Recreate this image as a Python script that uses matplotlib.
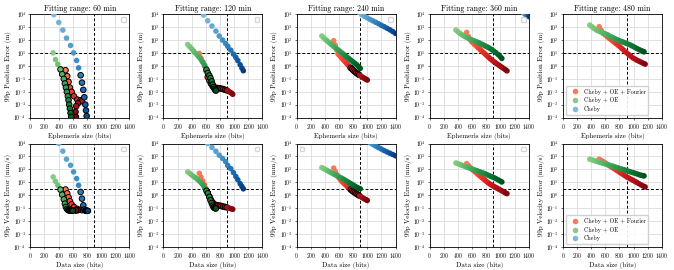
import numpy as np
import matplotlib.pyplot as plt
from matplotlib.lines import Line2D

plt.rcParams['font.family'] = 'serif'
plt.rcParams['font.serif'] = ['cmr10', 'DejaVu Serif']
plt.rcParams['mathtext.fontset'] = 'cm'
plt.rcParams['axes.formatter.use_mathtext'] = True

fit_ranges = [60, 120, 240, 360, 480]
series_labels = ['Cheby + OE + Fourier', 'Cheby + OE', 'Cheby']
pos_req = 10.0   # m
vel_req = 3.0    # mm/s
size_req = 900   # bits

# errors are stored as log10 values

# --- 60 min ---
fourier_60_bits = [498, 522, 541, 560, 584, 617, 664, 712, 731, 674, 650, 640, 645]
fourier_60_pos = [-0.34, -0.8, -1.24, -1.68, -2.01, -2.35, -2.61, -2.66, -2.74, -2.9, -3.12, -3.56, -3.95]
fourier_60_vel = [0.45, 0.15, -0.15, -0.45, -0.7, -0.9, -1.05, -1.12, -1.15, -1.15, -1.15, -1.16, -1.16]
oe_60_bits = [323, 356, 389, 427, 451, 474, 489, 503, 517, 531, 541, 550, 560, 569, 578, 590, 600]
oe_60_pos = [1.0, 0.48, 0.12, -0.28, -0.65, -1.01, -1.37, -1.68, -2.02, -2.35, -2.66, -3.0, -3.3, -3.65, -3.95, -4.3, -4.6]
oe_60_vel = [1.42, 1.08, 0.77, 0.44, 0.05, -0.31, -0.65, -0.9, -1.05, -1.12, -1.15, -1.17, -1.18, -1.18, -1.19, -1.19, -1.19]
cheby_60_bits = [332, 403, 460, 512, 569, 612, 655, 683, 712, 731, 750, 764, 778, 788, 797, 806, 815]
cheby_60_pos = [3.95, 3.35, 2.76, 2.14, 1.57, 1.0, 0.41, -0.16, -0.73, -1.3, -1.86, -2.43, -3.0, -3.45, -3.88, -4.3, -4.7]
cheby_60_vel = [4.6, 4.0, 3.41, 2.79, 2.32, 1.81, 1.29, 0.77, 0.26, -0.26, -0.77, -1.1, -1.18, -1.19, -1.2, -1.2, -1.2]

# --- 120 min ---
fourier_120_bits = [507, 530, 555, 580, 603, 626, 650, 672, 695, 719, 745, 770, 795, 820, 845, 870, 895, 920, 945, 965, 980]
fourier_120_pos = [0.95, 0.6, 0.3, 0.0, -0.4, -0.87, -1.15, -1.38, -1.58, -1.68, -1.7, -1.72, -1.74, -1.77, -1.8, -1.85, -1.9, -1.95, -2.05, -2.12, -2.2]
fourier_120_vel = [1.7, 1.4, 1.1, 0.8, 0.5, 0.2, -0.1, -0.35, -0.55, -0.7, -0.75, -0.78, -0.8, -0.83, -0.87, -0.9, -0.93, -0.97, -1.02, -1.05, -1.08]
oe_120_bits = [343, 370, 398, 425, 452, 480, 508, 535, 560, 585, 608, 628, 648, 665, 682, 697, 710, 722, 733, 742]
oe_120_pos = [1.65, 1.48, 1.32, 1.15, 0.98, 0.82, 0.65, 0.45, 0.25, 0.02, -0.3, -0.55, -0.75, -0.95, -1.2, -1.45, -1.65, -1.78, -1.86, -1.92]
oe_120_vel = [1.81, 1.7, 1.58, 1.46, 1.36, 1.24, 1.1, 0.95, 0.78, 0.56, 0.35, 0.15, -0.12, -0.38, -0.6, -0.8, -0.92, -0.98, -1.0, -1.02]
cheby_120_bits = [568, 625, 686, 742, 789, 836, 880, 910, 953, 991, 1024, 1052, 1085, 1110, 1130]
cheby_120_pos = [3.92, 3.48, 3.07, 2.68, 2.3, 1.99, 1.72, 1.5, 1.21, 0.9, 0.65, 0.4, 0.08, -0.18, -0.38]
cheby_120_vel = [4.3, 4.0, 3.7, 3.4, 3.1, 2.85, 2.6, 2.3, 2.06, 1.75, 1.45, 1.2, 0.9, 0.68, 0.5]

# --- 240 min ---
fourier_240_bits = [524, 545, 565, 585, 605, 625, 645, 665, 685, 705, 725, 745, 765, 785, 805, 825, 845, 865, 885, 905, 925, 945, 965, 985, 1000]
fourier_240_pos = [1.94, 1.6, 1.25, 0.92, 0.8, 0.68, 0.56, 0.44, 0.32, 0.2, 0.08, -0.04, -0.16, -0.26, -0.36, -0.46, -0.55, -0.63, -0.7, -0.78, -0.85, -0.92, -0.99, -1.05, -1.1]
fourier_240_vel = [2.1, 1.85, 1.62, 1.45, 1.3, 1.17, 1.05, 0.95, 0.85, 0.75, 0.63, 0.52, 0.45, 0.35, 0.27, 0.2, 0.12, 0.05, -0.02, -0.1, -0.17, -0.23, -0.3, -0.35, -0.4]
oe_240_bits = [357, 385, 410, 438, 465, 492, 520, 548, 575, 602, 630, 657, 685, 712, 740, 767, 795, 822, 850, 877, 900]
oe_240_pos = [2.3, 2.15, 2.02, 1.9, 1.77, 1.64, 1.52, 1.4, 1.28, 1.16, 1.04, 0.92, 0.8, 0.68, 0.56, 0.44, 0.32, 0.2, 0.08, -0.06, -0.2]
oe_240_vel = [2.14, 2.06, 1.98, 1.9, 1.82, 1.74, 1.66, 1.58, 1.5, 1.42, 1.34, 1.26, 1.17, 1.08, 0.99, 0.9, 0.81, 0.72, 0.63, 0.55, 0.5]
cheby_240_bits = [880, 920, 960, 1000, 1040, 1080, 1120, 1160, 1200, 1240, 1280, 1320, 1360, 1400]
cheby_240_pos = [4.15, 3.95, 3.82, 3.7, 3.58, 3.47, 3.36, 3.25, 3.13, 3.02, 2.9, 2.78, 2.65, 2.5]
cheby_240_vel = [4.5, 4.4, 4.3, 4.18, 4.05, 3.92, 3.8, 3.68, 3.57, 3.45, 3.35, 3.25, 3.15, 3.05]

# --- 360 min ---
fourier_360_bits = [522, 546, 570, 593, 617, 641, 665, 689, 713, 737, 761, 785, 809, 833, 857, 881, 905, 929, 953, 977, 1001, 1025, 1049, 1073, 1092]
fourier_360_pos = [2.58, 2.25, 2.02, 1.86, 1.74, 1.62, 1.5, 1.38, 1.26, 1.14, 1.02, 0.9, 0.78, 0.66, 0.54, 0.43, 0.33, 0.23, 0.14, 0.05, -0.04, -0.13, -0.22, -0.31, -0.39]
fourier_360_vel = [2.45, 2.3, 2.15, 2.03, 1.92, 1.81, 1.7, 1.59, 1.48, 1.37, 1.26, 1.15, 1.04, 0.94, 0.85, 0.77, 0.69, 0.62, 0.55, 0.47, 0.4, 0.33, 0.25, 0.18, 0.13]
oe_360_bits = [370, 398, 427, 455, 485, 515, 545, 575, 605, 635, 665, 695, 725, 755, 785, 815, 845, 875, 905, 935, 965, 995, 1020]
oe_360_pos = [2.76, 2.63, 2.5, 2.4, 2.3, 2.21, 2.13, 2.05, 1.98, 1.91, 1.85, 1.78, 1.7, 1.62, 1.53, 1.45, 1.36, 1.26, 1.14, 1.02, 0.88, 0.72, 0.57]
oe_360_vel = [2.5, 2.44, 2.38, 2.32, 2.26, 2.2, 2.14, 2.08, 2.02, 1.96, 1.9, 1.84, 1.78, 1.72, 1.65, 1.58, 1.51, 1.44, 1.37, 1.29, 1.2, 1.11, 1.03]
cheby_360_bits = [1330, 1355, 1380, 1405]
cheby_360_pos = [4.05, 3.96, 3.88, 3.8]
cheby_360_vel = [4.8, 4.7, 4.6, 4.5]

# --- 480 min ---
fourier_480_bits = [513, 540, 570, 600, 630, 660, 688, 718, 748, 778, 807, 837, 867, 902, 930, 960, 990, 1020, 1044, 1075, 1105, 1135, 1163]
fourier_480_pos = [3.02, 2.75, 2.5, 2.37, 2.24, 2.11, 1.99, 1.86, 1.73, 1.6, 1.47, 1.32, 1.17, 1.0, 0.87, 0.74, 0.61, 0.52, 0.44, 0.36, 0.28, 0.2, 0.13]
fourier_480_vel = [2.79, 2.7, 2.6, 2.49, 2.39, 2.28, 2.18, 2.08, 1.97, 1.87, 1.76, 1.66, 1.55, 1.42, 1.34, 1.25, 1.16, 1.07, 1.0, 0.9, 0.81, 0.72, 0.65]
oe_480_bits = [380, 410, 440, 474, 505, 535, 565, 595, 625, 655, 685, 715, 745, 775, 805, 835, 865, 895, 925, 955, 985, 1015, 1045, 1075, 1105, 1130, 1148]
oe_480_pos = [3.15, 3.02, 2.89, 2.76, 2.69, 2.62, 2.55, 2.48, 2.41, 2.32, 2.23, 2.15, 2.07, 2.0, 1.93, 1.87, 1.8, 1.74, 1.67, 1.6, 1.52, 1.43, 1.34, 1.26, 1.18, 1.12, 1.08]
oe_480_vel = [2.79, 2.74, 2.69, 2.63, 2.58, 2.53, 2.48, 2.43, 2.38, 2.33, 2.28, 2.23, 2.17, 2.12, 2.07, 2.02, 1.97, 1.92, 1.86, 1.81, 1.76, 1.71, 1.66, 1.6, 1.55, 1.52, 1.5]
cheby_480_bits = []
cheby_480_pos = []
cheby_480_vel = []

panels = [
    [(fourier_60_bits, fourier_60_pos, fourier_60_vel), (oe_60_bits, oe_60_pos, oe_60_vel), (cheby_60_bits, cheby_60_pos, cheby_60_vel)],
    [(fourier_120_bits, fourier_120_pos, fourier_120_vel), (oe_120_bits, oe_120_pos, oe_120_vel), (cheby_120_bits, cheby_120_pos, cheby_120_vel)],
    [(fourier_240_bits, fourier_240_pos, fourier_240_vel), (oe_240_bits, oe_240_pos, oe_240_vel), (cheby_240_bits, cheby_240_pos, cheby_240_vel)],
    [(fourier_360_bits, fourier_360_pos, fourier_360_vel), (oe_360_bits, oe_360_pos, oe_360_vel), (cheby_360_bits, cheby_360_pos, cheby_360_vel)],
    [(fourier_480_bits, fourier_480_pos, fourier_480_vel), (oe_480_bits, oe_480_pos, oe_480_vel), (cheby_480_bits, cheby_480_pos, cheby_480_vel)],
]
cmaps = [plt.cm.Reds, plt.cm.Greens, plt.cm.Blues]
top_legend_loc = ['upper right', 'upper right', 'upper right', 'upper right', 'lower left']
bot_legend_loc = ['upper right', 'upper right', 'upper left', 'upper right', 'lower left']

fig, axes = plt.subplots(2, 5, figsize=(6.74, 2.7), dpi=100)
fig.subplots_adjust(left=0.045, right=0.982, bottom=0.085, top=0.948, wspace=0.346, hspace=0.251)

def style_axis(ax, ylabel, xlabel):
    ax.set_xlim(0, 1400)
    ax.set_yscale('log')
    ax.set_ylim(1e-4, 1e4)
    ax.set_xticks(np.arange(0, 1401, 200))
    ax.set_yticks([10.0 ** k for k in range(-4, 5)])
    ax.minorticks_off()
    ax.grid(True, color='#dcdcdc', linewidth=0.6)
    ax.set_axisbelow(True)
    ax.tick_params(labelsize=4.0, length=1.5, width=0.4, pad=1.5)
    for sp in ax.spines.values():
        sp.set_linewidth(0.6)
    ax.set_ylabel(ylabel, fontsize=5.0, labelpad=1)
    ax.set_xlabel(xlabel, fontsize=5.0, labelpad=1.5)

for col, rng in enumerate(fit_ranges):
    ax_p = axes[0, col]
    ax_v = axes[1, col]
    for (bits, pos, vel), cmap in zip(panels[col], cmaps):
        if len(bits) == 0:
            continue
        bits = np.array(bits)
        pos = 10.0 ** np.array(pos)
        vel = 10.0 ** np.array(vel)
        colours = cmap(np.linspace(0.45, 0.95, len(bits)))
        ok = (pos < pos_req) & (vel < vel_req) & (bits <= size_req)
        edges = np.where(ok[:, None], np.array([0, 0, 0, 1.0]), np.array([0, 0, 0, 0.0]))
        for ax, err in ((ax_p, pos), (ax_v, vel)):
            ax.scatter(bits, err, s=16, c=colours, edgecolors=edges, linewidths=0.7, zorder=3)

    for ax, req in ((ax_p, pos_req), (ax_v, vel_req)):
        ax.axvline(size_req, color='k', ls='--', lw=0.7, dashes=(3, 2), zorder=2)
        ax.axhline(req, color='k', ls='--', lw=0.7, dashes=(3, 2), zorder=2)

    style_axis(ax_p, '99p Position Error (m)', 'Ephemeris size (bits)')
    style_axis(ax_v, '99p Velocity Error (mm/s)', 'Data size (bits)')
    ax_p.set_title(f'Fitting range: {rng} min', fontsize=5.6, pad=2)

    if col == len(fit_ranges) - 1:
        handles = [Line2D([], [], marker='o', ls='', markersize=4, markeredgewidth=0,
                          color=cm(0.45), label=lab) for cm, lab in zip(cmaps, series_labels)]
        for ax in (ax_p, ax_v):
            ax.legend(handles=handles, loc='lower left', fontsize=4.3, framealpha=0.9,
                      edgecolor='#cccccc', handletextpad=0.5, borderpad=0.45, labelspacing=0.45)
    else:
        ax_p.legend(handles=[], loc=top_legend_loc[col], fontsize=4.3, edgecolor='#cccccc')
        ax_v.legend(handles=[], loc=bot_legend_loc[col], fontsize=4.3, edgecolor='#cccccc')

fig.savefig('out.png', dpi=100)
